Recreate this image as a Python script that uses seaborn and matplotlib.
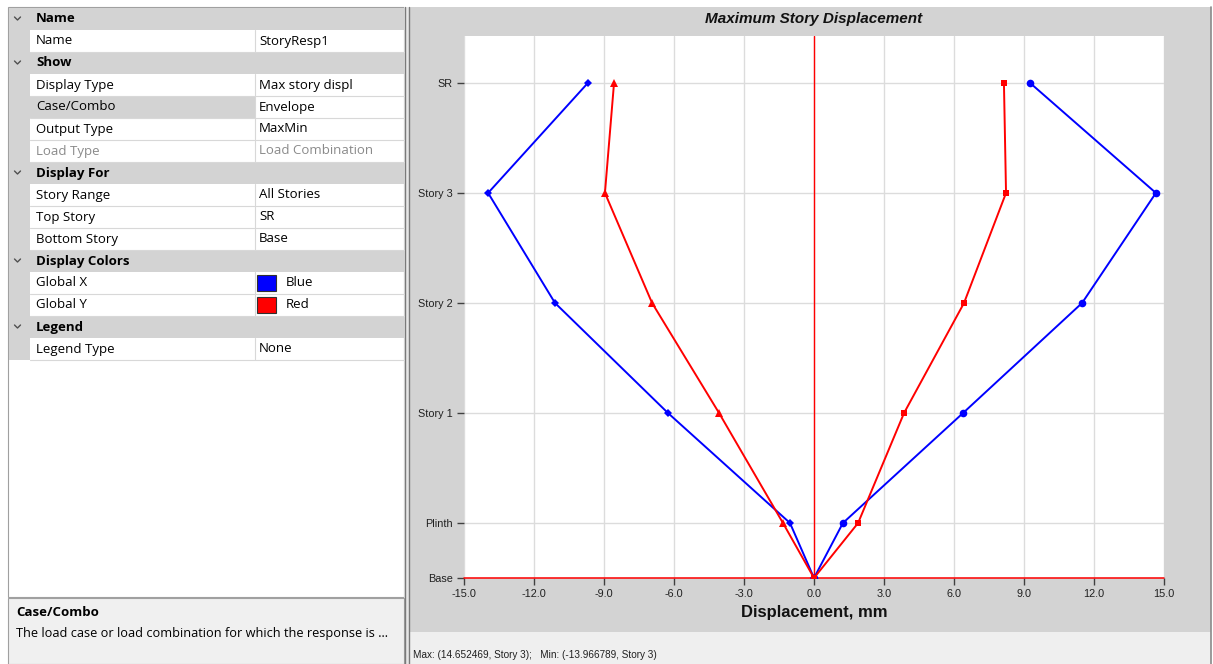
import matplotlib
matplotlib.use("Agg")
import matplotlib.pyplot as plt
from matplotlib.patches import Rectangle
import seaborn as sns
import pandas as pd

# ---------------- data ----------------
stories = ["Base", "Plinth", "Story 1", "Story 2", "Story 3", "SR"]
story_tick_labels = ["Base", "Plinth", "Story 1", "Story 2", "Story 3", "SR"]
elevations = [0.0, 1.5, 4.5, 7.5, 10.5, 13.5]

x_max = [0.0, 1.24, 6.39, 11.49, 14.652469, 9.26]      # Global X, max (blue circles)
x_min = [0.0, -1.03, -6.26, -11.10, -13.966789, -9.69]  # Global X, min (blue diamonds)
y_max = [0.0, 1.89, 3.86, 6.43, 8.23, 8.14]            # Global Y, max (red squares)
y_min = [0.0, -1.33, -4.07, -6.94, -8.96, -8.57]       # Global Y, min (red triangles)

x_ticks = [-15.0, -12.0, -9.0, -6.0, -3.0, 0.0, 3.0, 6.0, 9.0, 12.0, 15.0]

grid_rows = [
    ("h", "Name", ""),
    ("r", "Name", "StoryResp1"),
    ("h", "Show", ""),
    ("r", "Display Type", "Max story displ"),
    ("r", "Case/Combo", "Envelope"),
    ("r", "Output Type", "MaxMin"),
    ("r", "Load Type", "Load Combination"),
    ("h", "Display For", ""),
    ("r", "Story Range", "All Stories"),
    ("r", "Top Story", "SR"),
    ("r", "Bottom Story", "Base"),
    ("h", "Display Colors", ""),
    ("r", "Global X", "Blue"),
    ("r", "Global Y", "Red"),
    ("h", "Legend", ""),
    ("r", "Legend Type", "None"),
]

status_text = "Max: (14.652469, Story 3);   Min: (-13.966789, Story 3)"

# ---------------- figure ----------------
W, H = 1213, 664
sns.set_theme(style="white")
plt.rcParams["font.family"] = ["Open Sans", "DejaVu Sans"]
fig = plt.figure(figsize=(W / 100, H / 100), dpi=100)
fig.patch.set_facecolor("white")

bg = fig.add_axes([0, 0, 1, 1], zorder=0)
bg.set_xlim(0, W)
bg.set_ylim(H, 0)
bg.axis("off")

def rect(x0, y0, x1, y1, fc, ec="none", lw=0, z=1):
    bg.add_patch(Rectangle((x0, y0), x1 - x0, y1 - y0, facecolor=fc,
                           edgecolor=ec, linewidth=lw, zorder=z))

# left property grid
rect(8, 7, 404, 597, "white", "#a0a0a0", 0.8)
row_h = 22
y0 = 8
for i, (kind, label, value) in enumerate(grid_rows):
    top = y0 + i * row_h
    mid = top + row_h / 2
    if kind == "h":
        rect(9, top, 404, top + row_h, "#d3d3d3", z=2)
        bg.plot([14.5, 17.5, 20.5], [mid - 2, mid + 1, mid - 2], color="#505050",
                lw=1.0, zorder=5, solid_capstyle="round")
        bg.text(36, mid, label, ha="left", va="center", fontsize=9.5,
                fontweight="bold", color="black", zorder=5)
    else:
        rect(9, top, 30, top + row_h, "#d3d3d3", z=2)
        if label == "Case/Combo":
            rect(30, top, 255, top + row_h, "#d3d3d3", z=2)
        bg.plot([30, 404], [top + row_h, top + row_h], color="#d8d8d8",
                lw=0.8, zorder=3)
        bg.plot([255, 255], [top, top + row_h], color="#d8d8d8", lw=0.8, zorder=3)
        tc = "#8a8a8a" if label == "Load Type" else "black"
        bg.text(36, mid, label, ha="left", va="center", fontsize=9.5,
                color=tc, zorder=5)
        if label in ("Global X", "Global Y"):
            sw = "#0000ff" if label == "Global X" else "#ff0000"
            rect(257, top + 3, 276, top + row_h - 3, sw, "#303030", 0.8, z=4)
            bg.text(286, mid, value, ha="left", va="center", fontsize=9.5,
                    color=tc, zorder=5)
        else:
            bg.text(259, mid, value, ha="left", va="center", fontsize=9.5,
                    color=tc, zorder=5)

# description box
rect(8, 598, 404, 664, "#f0f0f0", "#a0a0a0", 0.8, z=2)
bg.text(16, 613, "Case/Combo", ha="left", va="center", fontsize=9.5,
        fontweight="bold", color="black", zorder=5)
bg.text(16, 634, "The load case or load combination for which the response is ...",
        ha="left", va="center", fontsize=9.2, color="black", zorder=5)

# splitter
rect(404, 7, 410, 664, "#e6e6e6", z=1)
bg.plot([405, 405], [7, 664], color="#7a7a7a", lw=1.0, zorder=2)
bg.plot([409, 409], [7, 664], color="#7a7a7a", lw=1.0, zorder=2)

# chart panel
rect(410, 7, 1211, 632, "#d3d3d3", z=1)
rect(410, 632, 1211, 664, "#efefef", z=1)
bg.plot([1211, 1211], [7, 664], color="#8a8a8a", lw=1.2, zorder=2)
bg.text(413, 655, status_text, ha="left", va="center", fontsize=7.2,
        family=["Liberation Sans", "DejaVu Sans"], color="#202020", zorder=5)

bg.text(814, 19, "Maximum Story Displacement", ha="center", va="center",
        fontsize=11, fontweight="bold", style="italic",
        family=["Liberation Sans", "DejaVu Sans"], color="#111111", zorder=5)

# ---------------- chart axes ----------------
ax = fig.add_axes([464 / W, 1 - 578 / H, 700 / W, 542 / H], zorder=2)
ax.set_facecolor("white")

df = pd.DataFrame({
    "story": stories,
    "elev": elevations,
    "x_max": x_max,
    "x_min": x_min,
    "y_max": y_max,
    "y_min": y_min,
})

series = [
    ("x_min", "#0000ff", "D", 4.5),
    ("x_max", "#0000ff", "o", 5.5),
    ("y_min", "#ff0000", "^", 5.5),
    ("y_max", "#ff0000", "s", 5.0),
]
for col, color, mk, ms in series:
    sns.lineplot(data=df, x=col, y="elev", sort=False, estimator=None,
                 color=color, marker=mk, markersize=ms, markeredgewidth=0,
                 linewidth=1.4, ax=ax, zorder=4)

ax.axvline(0, color="#ff0000", lw=1.0, zorder=3)
ax.axhline(0, color="#ff0000", lw=1.1, zorder=3, clip_on=False)

ax.set_xlim(-15, 15)
ax.set_ylim(0, 14.78)
ax.set_xticks(x_ticks)
ax.set_xticklabels([f"{v:.1f}" for v in x_ticks])
ax.set_yticks(elevations)
ax.set_yticklabels(story_tick_labels)
ax.grid(True, color="#dcdcdc", lw=1.0)
ax.set_axisbelow(True)
for s in ax.spines.values():
    s.set_visible(False)
ax.tick_params(axis="both", which="both", length=5, width=1.0, color="#404040",
               labelsize=7.8, labelcolor="#202020", pad=3, left=True, bottom=True)
for lab in ax.get_xticklabels() + ax.get_yticklabels():
    lab.set_family(["Liberation Sans", "DejaVu Sans"])
ax.set_xlabel("Displacement, mm", fontsize=12, fontweight="bold",
              family=["Liberation Sans", "DejaVu Sans"], color="#111111", labelpad=4)
ax.set_ylabel("")

fig.savefig("out.png", dpi=100)
